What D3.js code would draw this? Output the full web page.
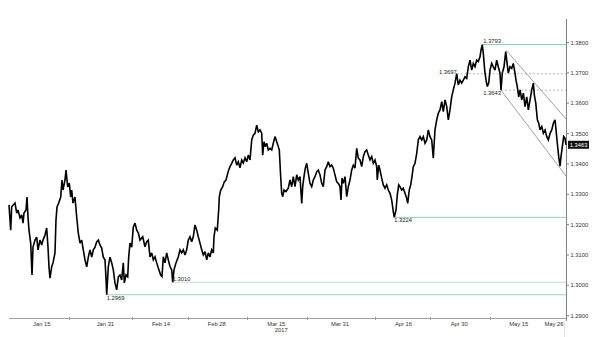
<!DOCTYPE html>
<html>
  <head>
    <meta charset="utf-8">
    <title>USD/CAD 2017</title>
    <style>
    body { margin: 0; background: #fff; }
    text { font-family: "Liberation Sans", Arial, sans-serif; }
    </style>
  </head>
  <body>
    <script src="https://d3js.org/d3.v7.min.js"></script>
    <script>
      // chart size
      var width = 600, height = 337;

      // price series: days since Jan 1 2017 and rate
      var days = [6.00,6.43,6.68,7.51,7.94,8.26,8.77,9.19,9.52,9.77,10.28,10.53,10.78,11.03,11.46,11.79,12.04,12.54,12.97,13.30,
        13.80,14.23,14.55,15.06,15.48,15.81,16.06,16.31,16.74,17.07,17.57,17.82,18.08,18.50,19.01,19.33,19.58,20.09,20.34,20.77,
        21.17,21.52,21.77,22.10,22.60,23.03,23.43,23.86,24.29,24.69,25.12,25.55,25.95,26.38,26.81,27.21,27.64,28.06,28.47,28.89,
        29.32,29.72,30.15,30.40,30.58,30.98,31.41,31.84,32.24,32.66,33.09,33.50,33.92,34.35,34.75,35.01,35.43,35.86,36.11,36.44,
        36.87,37.27,37.70,38.13,38.53,38.96,39.64,40.21,40.64,41.04,41.47,41.90,42.30,42.73,43.16,43.56,44.16,44.49,44.82,45.25,
        45.67,46.08,46.50,46.93,47.18,47.51,48.01,48.59,49.02,49.45,49.85,50.28,50.70,51.11,51.53,51.96,52.36,52.79,53.22,53.62,
        54.05,54.48,54.88,55.31,55.74,56.14,56.57,56.99,57.40,57.57,57.90,58.40,58.75,58.91,59.26,59.76,60.16,60.59,60.92,61.27,
        61.60,62.03,62.43,62.86,63.28,63.69,64.11,64.54,64.94,65.37,65.80,66.20,66.63,67.06,67.46,67.89,68.32,68.72,69.15,69.57,
        69.82,70.15,70.48,70.83,71.23,71.66,72.09,72.49,72.92,73.35,73.75,74.00,74.35,74.60,74.86,75.18,75.69,76.26,76.69,77.12,
        77.52,77.95,78.38,78.78,79.21,79.64,79.89,80.21,80.54,80.89,81.30,81.72,82.15,82.55,82.98,83.41,83.81,84.24,84.67,85.07,
        85.50,85.92,86.33,86.75,87.18,87.58,88.01,88.44,88.84,89.27,89.52,89.77,90.10,90.53,90.96,91.36,91.79,92.21,92.62,93.04,
        93.47,93.87,94.30,94.73,95.13,95.56,95.99,96.39,96.82,97.25,97.65,98.08,98.50,98.65,99.01,99.33,99.76,100.16,100.59,101.02,
        101.42,101.85,102.28,102.68,102.93,103.36,103.69,104.04,104.36,104.79,105.19,105.62,106.05,106.30,106.70,107.06,107.38,107.71,108.14,108.57,
        108.97,109.40,109.83,110.23,110.66,111.09,111.49,111.91,112.34,112.74,113.17,113.60,114.00,114.43,114.86,115.26,115.69,116.12,116.52,116.94,
        117.37,117.77,118.20,118.63,119.03,119.46,119.89,120.29,120.72,121.14,121.55,121.98,122.41,122.81,123.23,123.66,124.06,124.49,124.74,125.07,
        125.32,125.67,126.00,126.33,126.68,127.01,127.43,127.84,128.26,128.69,129.09,129.52,129.77,130.10,130.53,130.96,131.21,131.61,132.04,132.47,
        132.87,133.30,133.55,133.88,134.23,134.57,134.99,135.40,135.82,136.25,136.65,137.08,137.51,137.91,138.16,138.52,138.92,139.27,139.60,140.03,
        140.43,140.86,141.28,141.69,142.11,142.54,142.94,143.36,143.62,143.94,144.29,144.62,144.87,145.20,145.55,145.88,146.13];
      var rates = [1.3265,1.3182,1.3259,1.3271,1.3238,1.3248,1.3222,1.3232,1.3205,1.3238,1.3248,1.3291,1.3225,1.3182,1.3139,1.3034,1.3126,1.3149,1.3159,1.3117,
        1.3149,1.3133,1.3149,1.3166,1.3189,1.3126,1.3061,1.3024,1.3061,1.3074,1.3107,1.3215,1.3258,1.3271,1.3291,1.3347,1.3314,1.3347,1.3380,1.3324,
        1.3337,1.3291,1.3314,1.3271,1.3291,1.3225,1.3173,1.3139,1.3149,1.3117,1.3084,1.3061,1.3093,1.3117,1.3093,1.3117,1.3126,1.3143,1.3149,1.3133,
        1.3123,1.3093,1.3084,1.3024,1.2969,1.3061,1.3093,1.3074,1.3051,1.3008,1.2985,1.3028,1.3034,1.3018,1.3074,1.3008,1.3034,1.3028,1.3093,1.3139,
        1.3126,1.3192,1.3205,1.3182,1.3173,1.3149,1.3160,1.3127,1.3144,1.3149,1.3094,1.3107,1.3084,1.3094,1.3074,1.3057,1.3034,1.3029,1.3094,1.3074,
        1.3107,1.3084,1.3062,1.3051,1.3010,1.3051,1.3074,1.3094,1.3117,1.3107,1.3117,1.3100,1.3117,1.3149,1.3160,1.3144,1.3160,1.3199,1.3182,1.3160,
        1.3139,1.3117,1.3100,1.3111,1.3084,1.3107,1.3094,1.3117,1.3107,1.3160,1.3189,1.3182,1.3248,1.3292,1.3314,1.3325,1.3341,1.3347,1.3364,1.3380,
        1.3391,1.3402,1.3413,1.3420,1.3396,1.3407,1.3387,1.3413,1.3403,1.3420,1.3407,1.3429,1.3413,1.3479,1.3495,1.3501,1.3528,1.3506,1.3512,1.3501,
        1.3429,1.3473,1.3457,1.3468,1.3446,1.3451,1.3446,1.3468,1.3490,1.3473,1.3457,1.3446,1.3358,1.3303,1.3292,1.3314,1.3309,1.3320,1.3347,1.3325,
        1.3358,1.3325,1.3364,1.3347,1.3358,1.3270,1.3325,1.3358,1.3386,1.3402,1.3369,1.3336,1.3325,1.3347,1.3358,1.3374,1.3380,1.3364,1.3336,1.3325,
        1.3380,1.3391,1.3407,1.3391,1.3396,1.3386,1.3364,1.3341,1.3336,1.3325,1.3281,1.3353,1.3336,1.3358,1.3292,1.3325,1.3347,1.3380,1.3396,1.3386,
        1.3451,1.3419,1.3413,1.3391,1.3424,1.3440,1.3446,1.3429,1.3413,1.3424,1.3402,1.3413,1.3391,1.3347,1.3396,1.3380,1.3353,1.3331,1.3320,1.3331,
        1.3314,1.3303,1.3281,1.3243,1.3224,1.3248,1.3298,1.3331,1.3325,1.3314,1.3320,1.3303,1.3287,1.3270,1.3314,1.3331,1.3358,1.3391,1.3402,1.3435,
        1.3479,1.3490,1.3479,1.3490,1.3468,1.3479,1.3512,1.3490,1.3479,1.3419,1.3512,1.3545,1.3567,1.3578,1.3605,1.3572,1.3611,1.3589,1.3545,1.3578,
        1.3621,1.3644,1.3666,1.3697,1.3660,1.3676,1.3666,1.3676,1.3687,1.3682,1.3720,1.3742,1.3709,1.3731,1.3720,1.3742,1.3737,1.3753,1.3775,1.3793,
        1.3764,1.3709,1.3676,1.3655,1.3666,1.3709,1.3731,1.3720,1.3709,1.3742,1.3720,1.3699,1.3643,1.3699,1.3720,1.3770,1.3742,1.3699,1.3720,1.3715,
        1.3731,1.3699,1.3676,1.3654,1.3621,1.3644,1.3611,1.3633,1.3589,1.3621,1.3578,1.3611,1.3644,1.3666,1.3627,1.3600,1.3545,1.3534,1.3512,1.3523,
        1.3501,1.3512,1.3490,1.3479,1.3501,1.3512,1.3534,1.3545,1.3512,1.3468,1.3424,1.3393,1.3424,1.3457,1.3490,1.3484,1.3463];

      // horizontal levels (value, day where it starts)
      var supportLevels = [1.3793, 1.3224, 1.3010, 1.2969];
      var supportFrom = [125.07, 102.93, 47.18, 30.58];
      var pivotLevels = [1.3697, 1.3643];
      var pivotFrom = [118.63, 129.77];

      // descending channel, [day, rate]
      var channelUpper = [[131.03, 1.3775], [146.13, 1.3548]];
      var channelLower = [[129.77, 1.3643], [146.13, 1.3360]];

      var yTicks = [1.29, 1.30, 1.31, 1.32, 1.33, 1.34, 1.35, 1.36, 1.37, 1.38];
      var xLabels = ["Jan 15", "Jan 31", "Feb 14", "Feb 28", "Mar 15", "Mar 31", "Apr 16", "Apr 30", "May 15", "May 26"];
      var xLabelDays = [14, 30, 44, 58, 73, 89, 105, 119, 134, 145];
      var xMinorDays = [21, 37, 51, 66, 81, 98, 112, 127];
      var lastRate = 1.3463;

      function day(d) { return new Date(Date.UTC(2017, 0, 1) + d * 864e5); }

      var svg = d3.select("body").append("svg")
        .attr("width", width)
        .attr("height", height);

      var x = d3.scaleUtc()
        .domain([day(6), day(146)])
        .range([9, 565.5]);

      var y = d3.scaleLinear()
        .domain([1.29, 1.38])
        .range([315.7, 42.5]);

      var levelColor = d3.scaleOrdinal()
        .domain(supportLevels)
        .range(["#7fd0a8", "#92d3b9", "#bddcdc", "#98d6bd"]);

      // bottom axis
      svg.append("line")
        .attr("x1", 9).attr("x2", 566)
        .attr("y1", 318.5).attr("y2", 318.5)
        .attr("stroke", "#a0a0a0");
      svg.selectAll(".minor").data(xMinorDays).enter().append("line")
        .attr("x1", function(d){ return Math.round(x(day(d))) + 0.5; })
        .attr("x2", function(d){ return Math.round(x(day(d))) + 0.5; })
        .attr("y1", 317).attr("y2", 320)
        .attr("stroke", "#a0a0a0");
      svg.append("line")
        .attr("x1", 564.5).attr("x2", 564.5)
        .attr("y1", 321).attr("y2", 337)
        .attr("stroke", "#e4e4e4");
      svg.selectAll(".xlab").data(xLabels).enter().append("text")
        .attr("x", function(d, i){ return Math.min(x(day(xLabelDays[i])) + 1, 554); })
        .attr("y", 325.5)
        .attr("text-anchor", "middle")
        .attr("font-size", "5.8px")
        .attr("fill", "#333")
        .text(function(d){ return d; });
      svg.append("text")
        .attr("x", x(day(73)) + 6).attr("y", 331.5)
        .attr("text-anchor", "middle")
        .attr("font-size", "5.8px")
        .attr("fill", "#333")
        .text("2017");

      // right axis
      svg.append("line")
        .attr("x1", 566.5).attr("x2", 566.5)
        .attr("y1", 19).attr("y2", 321)
        .attr("stroke", "#808080");
      svg.selectAll(".ytick").data(yTicks).enter().append("line")
        .attr("x1", 566.5).attr("x2", 569)
        .attr("y1", function(d){ return y(d); })
        .attr("y2", function(d){ return y(d); })
        .attr("stroke", "#808080");
      svg.selectAll(".ylab").data(yTicks).enter().append("text")
        .attr("x", 570.5)
        .attr("y", function(d){ return y(d) + 2; })
        .attr("font-size", "5.8px")
        .attr("fill", "#333")
        .text(function(d){ return d.toFixed(4); });

      // horizontal levels
      svg.selectAll(".support").data(supportLevels).enter().append("line")
        .attr("x1", function(d, i){ return x(day(supportFrom[i])); })
        .attr("x2", 566)
        .attr("y1", function(d){ return y(d); })
        .attr("y2", function(d){ return y(d); })
        .attr("stroke", function(d){ return levelColor(d); })
        .attr("stroke-width", 1);
      svg.selectAll(".pivot").data(pivotLevels).enter().append("line")
        .attr("x1", function(d, i){ return x(day(pivotFrom[i])); })
        .attr("x2", 566)
        .attr("y1", function(d){ return y(d); })
        .attr("y2", function(d){ return y(d); })
        .attr("stroke", "#8fb0a6")
        .attr("stroke-dasharray", "2,2")
        .attr("stroke-width", 0.8);

      // channel
      var chan = d3.line()
        .x(function(d){ return x(day(d[0])); })
        .y(function(d){ return y(d[1]); });
      [channelUpper, channelLower].forEach(function(c){
        svg.append("path")
          .attr("d", chan(c))
          .attr("fill", "none")
          .attr("stroke", "#8a8a8a")
          .attr("stroke-width", 0.8);
      });

      // price line
      var line = d3.line()
        .x(function(d, i){ return x(day(days[i])); })
        .y(function(d){ return y(d); });
      svg.append("path")
        .attr("d", line(rates))
        .attr("fill", "none")
        .attr("stroke", "#000")
        .attr("stroke-width", 1.6)
        .attr("stroke-linejoin", "miter")
        .attr("stroke-miterlimit", 3);

      // level labels
      function label(v, d, anchor, dx, dy) {
        svg.append("text")
          .attr("x", x(day(d)) + dx)
          .attr("y", y(v) + dy)
          .attr("text-anchor", anchor)
          .attr("font-size", "5.8px")
          .attr("fill", "#222")
          .text(v.toFixed(4));
      }
      label(1.3793, 125.07, "start", 1, -1.5);
      label(1.3697, 118.63, "end", 0, 0);
      label(1.3643, 129.77, "end", 0, 5);
      label(1.3224, 102.93, "start", 0, 5);
      label(1.3010, 47.18, "start", 0, -1);
      label(1.2969, 30.58, "start", 0, 5);

      // last value box
      svg.append("rect")
        .attr("x", 568).attr("y", y(lastRate) - 4)
        .attr("width", 21).attr("height", 8)
        .attr("fill", "#111");
      svg.append("text")
        .attr("x", 578.5).attr("y", y(lastRate) + 2)
        .attr("text-anchor", "middle")
        .attr("font-size", "5.8px")
        .attr("fill", "#fff")
        .text(lastRate.toFixed(4));
    </script>
  </body>
</html>
